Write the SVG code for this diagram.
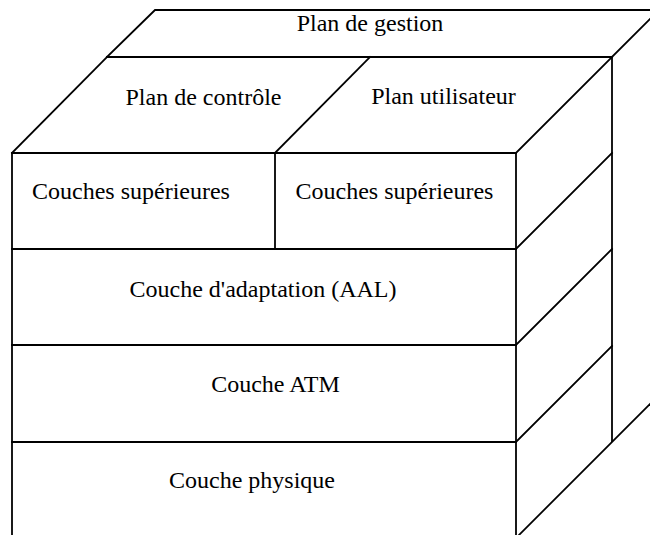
<svg xmlns="http://www.w3.org/2000/svg" width="650" height="535" viewBox="0 0 650 535">
  <style>
    .edge { fill: none; stroke: #000; stroke-width: 1.8; stroke-linecap: square; }
    .label { font-family: 'Liberation Serif', serif; font-size: 24px; fill: #000; text-anchor: middle; }
  </style>
  <rect width="650" height="535" fill="#fff"/>

  <!-- block outlines -->
  <g id="connectors">
    <!-- top management plane -->
    <polyline class="edge" points="107,57 155,10 670,10"/>
    <line class="edge" x1="107" y1="57" x2="612" y2="57"/>
    <line class="edge" x1="612" y1="57" x2="670" y2="-1"/>
    <!-- control / user plane top face -->
    <line class="edge" x1="12" y1="153" x2="107" y2="57"/>
    <line class="edge" x1="275" y1="153" x2="370" y2="57"/>
    <line class="edge" x1="516" y1="153" x2="612" y2="57"/>
    <!-- front face -->
    <line class="edge" x1="12" y1="153" x2="12" y2="540"/>
    <line class="edge" x1="516" y1="153" x2="516" y2="540"/>
    <line class="edge" x1="12" y1="153" x2="516" y2="153"/>
    <line class="edge" x1="275" y1="153" x2="275" y2="249"/>
    <line class="edge" x1="12" y1="249" x2="516" y2="249"/>
    <line class="edge" x1="12" y1="345" x2="516" y2="345"/>
    <line class="edge" x1="12" y1="442" x2="516" y2="442"/>
    <!-- right side face -->
    <line class="edge" x1="612" y1="57" x2="612" y2="441"/>
    <line class="edge" x1="516" y1="249" x2="612" y2="153"/>
    <line class="edge" x1="516" y1="345" x2="612" y2="249"/>
    <line class="edge" x1="516" y1="442" x2="612" y2="346"/>
    <line class="edge" x1="516" y1="538" x2="670" y2="384"/>
  </g>

  <g id="plan-gestion"><text class="label" x="370" y="31">Plan de gestion</text></g>
  <g id="plan-controle"><text class="label" x="203.5" y="105">Plan de contrôle</text></g>
  <g id="plan-utilisateur"><text class="label" x="443.5" y="104">Plan utilisateur</text></g>
  <g id="couches-sup-gauche"><text class="label" x="131" y="199">Couches supérieures</text></g>
  <g id="couches-sup-droite"><text class="label" x="394.5" y="199">Couches supérieures</text></g>
  <g id="couche-aal"><text class="label" x="263" y="297">Couche d'adaptation (AAL)</text></g>
  <g id="couche-atm"><text class="label" x="275.5" y="392">Couche ATM</text></g>
  <g id="couche-physique"><text class="label" x="252" y="488">Couche physique</text></g>
</svg>
